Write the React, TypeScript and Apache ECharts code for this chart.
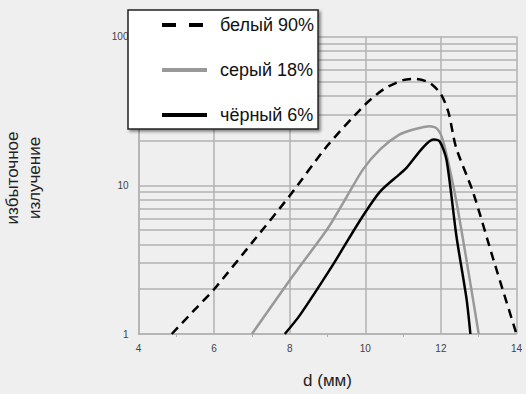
import React, { useEffect, useRef } from "react";
import * as echarts from "echarts";

const xTicks = [4, 6, 8, 10, 12, 14];
const yMinorLines = [2, 3, 4, 5, 6, 7, 8, 9, 20, 30, 40, 50, 60, 70, 80, 90];

const seriesNames = ["белый 90%", "серый 18%", "чёрный 6%"];

const xWhite = [4.88, 5.5, 6, 7, 8, 9, 10, 10.5, 11, 11.3, 11.7, 12, 12.2, 12.4, 12.85, 13.4, 14];
const yWhite = [1, 1.47, 2, 4.1, 8.5, 18.5, 35, 44.5, 51, 52, 49, 41, 31, 18, 9, 3.1, 1];

const xGray = [7, 8, 8.27, 9, 9.5, 9.94, 10.4, 10.9, 11.3, 11.7, 11.9, 12.06, 12.4, 12.7, 13];
const yGray = [1, 2.3, 2.85, 5.1, 8.3, 12.8, 17.5, 21.9, 23.8, 25, 24, 19.8, 8, 2.9, 1];

const xBlack = [7.87, 8.27, 9.15, 9.86, 10.39, 10.91, 11.09, 11.53, 11.8, 11.97, 12.15, 12.41, 12.68, 12.78];
const yBlack = [1, 1.34, 2.94, 5.8, 9.06, 11.9, 13.1, 18, 20.3, 19.7, 14.8, 4.56, 1.71, 1];

const zip = (xs: number[], ys: number[]) => xs.map((x, i) => [x, ys[i]]);

const FONT = "'Liberation Sans', Arial, sans-serif";
const GRID = "#b2b2b2";
const HIDE = { color: "rgba(0,0,0,0)", borderWidth: 0, borderColor: "rgba(0,0,0,0)" };

export default function App() {
  const ref = useRef<HTMLDivElement>(null);
  useEffect(() => {
    if (!ref.current) return;
    const chart = echarts.init(ref.current, null, { renderer: "svg" });
    chart.setOption({
      animation: false,
      backgroundColor: "#efefef",
      textStyle: { fontFamily: FONT },
      grid: { left: 138.5, right: 9.5, top: 36.6, bottom: 44, containLabel: false },
      xAxis: {
        type: "value",
        min: xTicks[0],
        max: xTicks[xTicks.length - 1],
        interval: 2,
        name: "d (мм)",
        nameLocation: "middle",
        nameGap: 38,
        nameTextStyle: { fontSize: 17, color: "#222", fontFamily: FONT },
        axisLine: { show: true, lineStyle: { color: GRID, width: 1.5 } },
        axisTick: { show: false },
        minorTick: { show: true, splitNumber: 2, length: 3, lineStyle: { color: GRID } },
        axisLabel: { fontSize: 10, color: "#444", margin: 9, fontFamily: FONT },
        splitLine: { show: true, lineStyle: { color: GRID, width: 1.5 } },
      },
      yAxis: {
        type: "log",
        logBase: 10,
        min: 1,
        max: 100,
        axisLine: { show: true, lineStyle: { color: GRID, width: 1.5 } },
        axisTick: { show: false },
        axisLabel: { fontSize: 10, color: "#444", margin: 10, fontFamily: FONT },
        splitLine: { show: true, lineStyle: { color: GRID, width: 1.5 } },
      },
      legend: {
        orient: "vertical",
        left: 128,
        top: 10,
        backgroundColor: "#ffffff",
        borderColor: "#222",
        borderWidth: 1.5,
        borderRadius: 0,
        shadowColor: "rgba(0,0,0,0.45)",
        shadowBlur: 3,
        shadowOffsetX: 2,
        shadowOffsetY: 2,
        padding: [6, 4, 5, 32],
        itemWidth: 45,
        itemHeight: 14,
        itemGap: 27,
        textStyle: { fontSize: 18, color: "#111", fontFamily: FONT, padding: [0, 0, 0, 8] },
        data: [
          { name: seriesNames[0], itemStyle: HIDE, lineStyle: { width: 4, type: [14, 13], color: "#000" } },
          { name: seriesNames[1], itemStyle: HIDE, lineStyle: { width: 4, color: "#999" } },
          { name: seriesNames[2], itemStyle: HIDE, lineStyle: { width: 4, color: "#000" } },
        ],
      },
      graphic: [
        {
          type: "text",
          x: 23,
          y: 178,
          rotation: Math.PI / 2,
          style: {
            text: "избыточное\nизлучение",
            fontSize: 17,
            lineHeight: 22,
            fontFamily: FONT,
            fill: "#222",
            align: "center",
            verticalAlign: "middle",
          },
        },
      ],
      series: [
        {
          name: seriesNames[0],
          type: "line",
          data: zip(xWhite, yWhite),
          smooth: 0.25,
          symbol: "none",
          showSymbol: false,
          z: 5,
          lineStyle: { color: "#000", width: 2.5, type: [9, 6] },
          itemStyle: { color: "#000" },
          markLine: {
            silent: true,
            symbol: "none",
            label: { show: false },
            lineStyle: { color: GRID, width: 1.5, type: "solid" },
            z: 1,
            data: yMinorLines.map((v) => ({ yAxis: v })),
          },
        },
        {
          name: seriesNames[1],
          type: "line",
          data: zip(xGray, yGray),
          smooth: 0.25,
          symbol: "none",
          showSymbol: false,
          z: 5,
          lineStyle: { color: "#999", width: 2.5 },
          itemStyle: { color: "#999" },
        },
        {
          name: seriesNames[2],
          type: "line",
          data: zip(xBlack, yBlack),
          smooth: 0.25,
          symbol: "none",
          showSymbol: false,
          z: 6,
          lineStyle: { color: "#000", width: 2.5 },
          itemStyle: { color: "#000" },
        },
      ],
    });
    return () => chart.dispose();
  }, []);
  return <div ref={ref} style={{ width: 526, height: 394, position: "absolute", left: 0, top: 0 }} />;
}
